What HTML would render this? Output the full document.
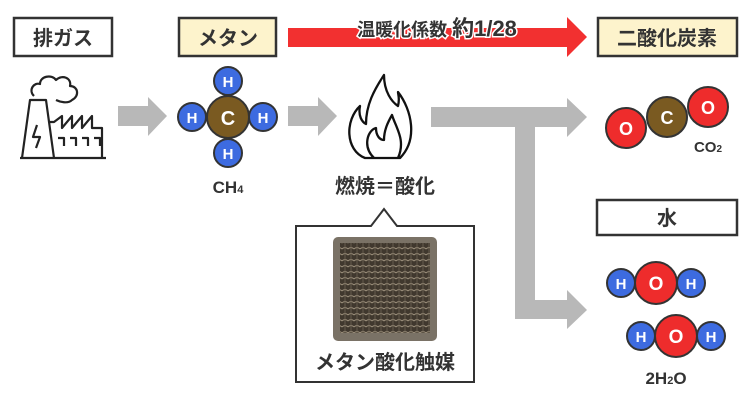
<!DOCTYPE html>
<html><head><meta charset="utf-8"><style>
body{margin:0;background:#fff;}
svg{display:block;font-family:"Liberation Sans","Noto Sans CJK JP",sans-serif;}
.b{font-weight:bold;fill:#333;}
</style></head><body>
<svg width="750" height="400" viewBox="0 0 750 400" xmlns="http://www.w3.org/2000/svg">
<rect x="14" y="18" width="98" height="38" fill="#fff" stroke="#333" stroke-width="2.5"/>
<text x="63" y="45" text-anchor="middle" class="b" font-size="20">排ガス</text>
<rect x="179" y="18" width="97" height="38" fill="#fdf3cc" stroke="#333" stroke-width="2.5"/>
<text x="228" y="45" text-anchor="middle" class="b" font-size="20">メタン</text>
<rect x="598" y="18" width="139" height="38" fill="#fdf3cc" stroke="#333" stroke-width="2.5"/>
<text x="667" y="45" text-anchor="middle" class="b" font-size="20">二酸化炭素</text>
<rect x="597" y="200" width="140" height="35" fill="#fff" stroke="#333" stroke-width="2.5"/>
<text x="667" y="225" text-anchor="middle" class="b" font-size="20">水</text>
<polygon points="288,28 567,28 567,17 587,37 567,57 567,47 288,47" fill="#f23030"/>
<text x="437" y="36" text-anchor="middle" font-weight="bold" fill="#333" stroke="#fff" stroke-width="3" paint-order="stroke"><tspan font-size="18">温暖化係数 </tspan><tspan font-size="22">約1/28</tspan></text>
<g fill="none" stroke="#222" stroke-width="2.2" stroke-linejoin="round">
<path d="M20,158 H106"/>
<path d="M22,158 L30,100 H46 L54,158"/>
<path d="M50,122 H54 L62,116 V128 L72,116 V128 L82,116 V128 L92,116 V128 H102 V158"/>
<path d="M37,125 L33,137 H40 L36,148"/>
<path d="M58,138 H64 V146 M70,138 H76 V146 M82,138 H88 V146 M94,138 H100 V146"/>
<path d="M34,96 C28,90 34,82 40,84 C40,76 52,74 56,80 C62,74 72,78 70,86 C78,86 80,96 72,100 C68,104 60,102 56,100"/>
</g>
<polygon points="118,106 148,106 148,97 167,116 148,136 148,126 118,126" fill="#b8b8b8"/>
<polygon points="288,106 318,106 318,97 337,116 318,136 318,126 288,126" fill="#b8b8b8"/>
<polygon points="431,107 567,107 567,98 587,117 567,137 567,127 535,127 535,300 567,300 567,290 587,310 567,329 567,319 515,319 515,127 431,127" fill="#b8b8b8"/>
<g stroke="#333" stroke-width="2">
<circle cx="228" cy="117" r="21" fill="#7a5a21"/>
<circle cx="228" cy="81" r="14" fill="#3d6be0"/>
<circle cx="228" cy="153" r="14" fill="#3d6be0"/>
<circle cx="192" cy="117" r="14" fill="#3d6be0"/>
<circle cx="263" cy="117" r="14" fill="#3d6be0"/>
</g>
<g fill="#fff" font-weight="bold" text-anchor="middle">
<text x="228" y="125" font-size="20">C</text>
<text x="228" y="87" font-size="15">H</text>
<text x="228" y="159" font-size="15">H</text>
<text x="192" y="123" font-size="15">H</text>
<text x="263" y="123" font-size="15">H</text>
</g>
<text x="228" y="193" text-anchor="middle" class="b" font-size="17">CH<tspan font-size="11">4</tspan></text>
<g fill="none" stroke="#111" stroke-width="2.3" stroke-linejoin="round">
<path d="M365,158 C345,150 345,120 360,106 C358,116 362,122 366,124 C366,105 374,90 384,75 C384,92 392,102 398,106 C400,98 398,95 398,92 C412,110 418,140 400,158 Z"/>
<path d="M374,158 C362,146 368,130 376,128 C376,136 380,140 384,140 C384,130 388,122 392,115 C396,128 406,140 398,158"/>
</g>
<text x="385" y="193" text-anchor="middle" class="b" font-size="20">燃焼＝酸化</text>
<path d="M296,226 H371 L384,209 L397,226 H474 V382 H296 Z" fill="#fff" stroke="#333" stroke-width="2"/>
<defs><pattern id="p" width="6" height="6" patternUnits="userSpaceOnUse"><rect width="6" height="6" fill="#40382e"/><path d="M0,3 Q3,0 6,3" stroke="#9a8e7a" stroke-width="1" fill="none"/><path d="M3,0 V6" stroke="#6f6555" stroke-width="0.8"/></pattern></defs>
<rect x="333" y="237" width="104" height="104" rx="5" fill="#7a7266"/>
<rect x="340" y="243" width="90" height="90" fill="url(#p)"/>
<text x="385" y="369" text-anchor="middle" class="b" font-size="20">メタン酸化触媒</text>
<g stroke="#333" stroke-width="2">
<circle cx="626" cy="128" r="20" fill="#ee2c2c"/>
<circle cx="667" cy="117" r="20" fill="#7a5a21"/>
<circle cx="708" cy="107" r="20" fill="#ee2c2c"/>
</g>
<g fill="#fff" font-weight="bold" text-anchor="middle" font-size="18">
<text x="626" y="135">O</text><text x="667" y="124">C</text><text x="708" y="114">O</text>
</g>
<text x="708" y="152" text-anchor="middle" class="b" font-size="15">CO<tspan font-size="10">2</tspan></text>
<g stroke="#333" stroke-width="2">
<circle cx="621" cy="283" r="14" fill="#3d6be0"/><circle cx="691" cy="283" r="14" fill="#3d6be0"/>
<circle cx="656" cy="283" r="21" fill="#ee2c2c"/>
<circle cx="641" cy="336" r="14" fill="#3d6be0"/><circle cx="711" cy="336" r="14" fill="#3d6be0"/>
<circle cx="676" cy="336" r="21" fill="#ee2c2c"/>
</g>
<g fill="#fff" font-weight="bold" text-anchor="middle">
<text x="621" y="289" font-size="15">H</text><text x="656" y="290" font-size="19">O</text><text x="691" y="289" font-size="15">H</text>
<text x="641" y="342" font-size="15">H</text><text x="676" y="343" font-size="19">O</text><text x="711" y="342" font-size="15">H</text>
</g>
<text x="666" y="384" text-anchor="middle" class="b" font-size="17">2H<tspan font-size="11">2</tspan>O</text>
</svg>
</body></html>
